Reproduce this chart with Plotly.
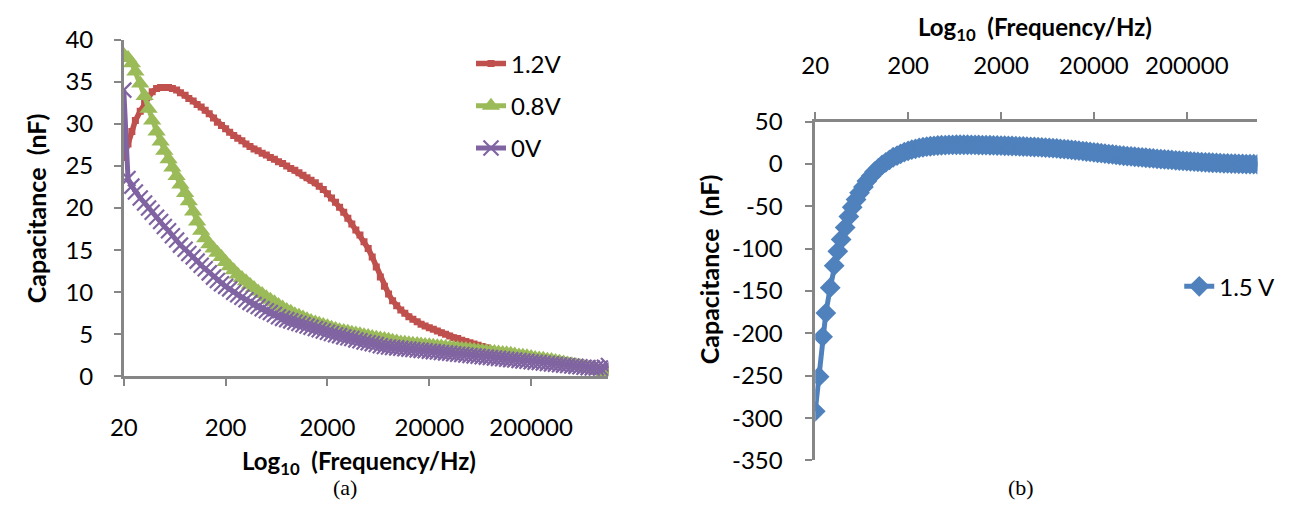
import math
import plotly.graph_objects as go

freq_hz = [
    20, 22, 24, 26, 29, 32, 35, 38, 42, 46, 50, 55, 60, 66, 72, 80, 87, 96, 105, 115, 126, 138, 152, 166, 182,
    200, 219, 240, 263, 289, 317, 347, 380, 417, 457, 502, 550, 603, 661, 725, 796, 872, 957, 1050, 1150, 1260, 1380, 1520, 1660, 1820,
    2000, 2190, 2400, 2630, 2890, 3170, 3470, 3800, 4170, 4570, 5020, 5500, 6030, 6610, 7250, 7960, 8720, 9570, 10500, 11500, 12600, 13800, 15200, 16600, 18200,
    20000, 21900, 24000, 26300, 28900, 31700, 34700, 38000, 41700, 45700, 50200, 55000, 60300, 66100, 72500, 79600, 87200, 95700, 105000, 115000, 126000, 138000, 152000, 166000, 182000,
    200000, 219000, 240000, 263000, 289000, 317000, 347000, 380000, 417000, 457000, 502000, 550000, 603000, 661000, 725000, 796000, 872000, 957000, 1050000, 1150000,
]

cap_1v2 = [
    26.0, 27.6, 29.1, 30.4, 31.5, 32.4, 33.2, 33.8, 34.2, 34.3, 34.3, 34.3, 34.2, 34.0, 33.7, 33.4, 33.0, 32.7, 32.3, 32.0,
    31.6, 31.2, 30.7, 30.2, 29.8, 29.4, 29.0, 28.6, 28.3, 28.0, 27.6, 27.3, 27.0, 26.8, 26.5, 26.3, 26.0, 25.8, 25.5, 25.3,
    25.0, 24.7, 24.5, 24.2, 23.9, 23.6, 23.3, 23.0, 22.6, 22.2, 21.7, 21.2, 20.7, 20.1, 19.5, 18.8, 18.1, 17.4, 16.8, 16.0,
    15.2, 14.2, 13.0, 11.8, 10.7, 9.8, 9.0, 8.4, 7.9, 7.5, 7.1, 6.8, 6.5, 6.2, 6.0, 5.8, 5.6, 5.4, 5.2, 5.0,
    4.8, 4.6, 4.5, 4.3, 4.15, 4.0, 3.85, 3.7, 3.55, 3.4, 3.2, 3.1, 3.0, 2.95, 2.9, 2.8, 2.7, 2.6, 2.5, 2.4,
    2.3, 2.2, 2.15, 2.1, 2.0, 1.9, 1.85, 1.8, 1.7, 1.65, 1.6, 1.5, 1.45, 1.4, 1.3, 1.2, 1.1, 1.0, 0.9, 0.8,
]

cap_0v8 = [
    38.2, 37.8, 37.2, 36.2, 34.8, 33.3, 31.8, 30.4, 29.1, 27.9, 26.8, 25.8, 24.8, 23.8, 22.8, 21.8, 20.8, 19.6, 18.4, 17.3,
    16.4, 15.7, 15.2, 14.7, 14.2, 13.6, 13.1, 12.6, 12.1, 11.7, 11.3, 10.9, 10.5, 10.1, 9.8, 9.4, 9.1, 8.8, 8.5, 8.2,
    7.9, 7.7, 7.4, 7.2, 7.0, 6.8, 6.6, 6.4, 6.25, 6.1, 5.95, 5.8, 5.65, 5.5, 5.4, 5.3, 5.2, 5.1, 5.0, 4.9,
    4.8, 4.7, 4.6, 4.5, 4.45, 4.35, 4.25, 4.15, 4.05, 4.0, 3.95, 3.9, 3.85, 3.8, 3.75, 3.7, 3.65, 3.6, 3.55, 3.5,
    3.45, 3.4, 3.35, 3.3, 3.25, 3.2, 3.15, 3.1, 3.05, 3.0, 2.95, 2.9, 2.85, 2.8, 2.75, 2.7, 2.6, 2.5, 2.45, 2.4,
    2.3, 2.2, 2.15, 2.1, 2.0, 1.95, 1.85, 1.75, 1.65, 1.55, 1.45, 1.35, 1.25, 1.15, 1.05, 0.95, 0.8, 0.65, 0.5, 0.35,
]

cap_0v = [
    34.0, 23.5, 22.6, 21.9, 21.2, 20.6, 20.0, 19.5, 18.9, 18.4, 17.8, 17.3, 16.7, 16.2, 15.6, 15.1, 14.6, 14.2, 13.7, 13.2,
    12.8, 12.3, 11.8, 11.4, 11.0, 10.7, 10.4, 10.0, 9.7, 9.4, 9.1, 8.8, 8.55, 8.3, 8.05, 7.8, 7.6, 7.35, 7.1, 6.9,
    6.75, 6.6, 6.45, 6.3, 6.15, 6.0, 5.85, 5.7, 5.55, 5.4, 5.25, 5.1, 4.95, 4.85, 4.7, 4.6, 4.5, 4.35, 4.25, 4.1,
    4.0, 3.9, 3.8, 3.65, 3.55, 3.5, 3.45, 3.4, 3.35, 3.3, 3.25, 3.2, 3.15, 3.1, 3.05, 3.0, 2.95, 2.9, 2.85, 2.8,
    2.75, 2.7, 2.65, 2.6, 2.55, 2.5, 2.45, 2.4, 2.35, 2.3, 2.25, 2.2, 2.15, 2.1, 2.05, 2.0, 1.95, 1.9, 1.85, 1.8,
    1.75, 1.7, 1.65, 1.6, 1.55, 1.5, 1.45, 1.4, 1.35, 1.3, 1.25, 1.2, 1.15, 1.1, 1.05, 1.0, 1.0, 1.0, 1.1, 1.3,
]

cap_1v5 = [
    -292, -251, -204, -176, -146, -120, -103, -89, -75, -62, -51, -42, -34, -27, -20, -14, -9, -5, -1, 2,
    5, 8, 10, 12, 14, 15.5, 17, 18, 19, 19.8, 20.5, 21, 21.5, 21.9, 22.2, 22.4, 22.6, 22.7, 22.8, 22.8,
    22.8, 22.8, 22.7, 22.6, 22.5, 22.4, 22.3, 22.2, 22.0, 21.9, 21.8, 21.6, 21.5, 21.3, 21.1, 20.9, 20.7, 20.5, 20.3, 20.1,
    19.9, 19.6, 19.3, 19.0, 18.7, 18.4, 18.0, 17.6, 17.2, 16.8, 16.3, 15.8, 15.3, 14.8, 14.3, 13.8, 13.3, 12.8, 12.3, 11.8,
    11.3, 10.8, 10.3, 9.8, 9.4, 9.0, 8.6, 8.2, 7.8, 7.4, 7.0, 6.6, 6.2, 5.8, 5.4, 5.1, 4.8, 4.4, 4.1, 3.8,
    3.5, 3.2, 2.9, 2.6, 2.3, 2.0, 1.8, 1.5, 1.3, 1.1, 0.9, 0.7, 0.5, 0.4, 0.2, 0.1, 0.0, -0.1, -0.2, -0.3,
]

x_tick_vals = [20, 200, 2000, 20000, 200000]
x_tick_text = ["20", "200", "2000", "20000", "200000"]
left_y_ticks = [0, 5, 10, 15, 20, 25, 30, 35, 40]
right_y_ticks = [50, 0, -50, -100, -150, -200, -250, -300, -350]
right_y_tick_text = ["50", "0", "-50", "-100", "-150", "-200", "-250", "-300", "-350"]

RED = "#C0504D"
GREEN = "#9BBB59"
PURPLE = "#8064A2"
BLUE = "#4F81BD"
AXIS = "#868686"
FONT = "Lato, Open Sans, sans-serif"
FS = 24

W, H = 1293, 515

fig = go.Figure()

fig.add_trace(go.Scatter(
    x=freq_hz, y=cap_1v2, name="1.2V", mode="lines+markers",
    line=dict(color=RED, width=5.5),
    marker=dict(symbol="square", size=7, color=RED),
    xaxis="x", yaxis="y", legend="legend", legendgroup="a",
))
fig.add_trace(go.Scatter(
    x=freq_hz, y=cap_0v8, name="0.8V", mode="lines+markers",
    line=dict(color=GREEN, width=5),
    marker=dict(symbol="triangle-up", size=16, color=GREEN),
    xaxis="x", yaxis="y", legend="legend", legendgroup="b",
))
fig.add_trace(go.Scatter(
    x=freq_hz, y=cap_0v, name="0V", mode="lines+markers",
    line=dict(color=PURPLE, width=5),
    marker=dict(symbol="x-thin", size=15, color=PURPLE, line=dict(color=PURPLE, width=2.2)),
    xaxis="x", yaxis="y", legend="legend", legendgroup="c",
))
fig.add_trace(go.Scatter(
    x=freq_hz, y=cap_1v5, name="1.5 V", mode="lines+markers",
    line=dict(color=BLUE, width=5),
    marker=dict(symbol="diamond", size=16, color=BLUE),
    xaxis="x2", yaxis="y2", legend="legend2",
))

xr = [math.log10(freq_hz[0]), math.log10(freq_hz[-1])]

axis_common = dict(
    showline=True, linecolor=AXIS, linewidth=2.5,
    ticks="outside", tickcolor=AXIS, tickwidth=2, ticklen=7,
    showgrid=False, zeroline=False,
    tickfont=dict(family=FONT, size=FS, color="#000000"),
)

fig.update_layout(
    width=W, height=H,
    margin=dict(l=0, r=0, t=0, b=0),
    paper_bgcolor="white", plot_bgcolor="white",
    showlegend=True,
    xaxis=dict(
        type="log", range=xr, domain=[111 / W, 601 / W], anchor="y",
        tickvals=x_tick_vals, ticktext=x_tick_text, ticklabelstandoff=21,
        **axis_common,
    ),
    yaxis=dict(
        range=[0, 40], domain=[(H - 382) / H, (H - 25) / H], anchor="x",
        tickvals=left_y_ticks, ticklabelstandoff=16,
        **axis_common,
    ),
    xaxis2=dict(
        type="log", range=xr, domain=[810 / W, 1257 / W], anchor="y2", side="top",
        tickvals=x_tick_vals, ticktext=x_tick_text, ticklabelstandoff=28,
        **axis_common,
    ),
    yaxis2=dict(
        range=[-350, 50], domain=[(H - 471) / H, (H - 112) / H], anchor="x2",
        tickvals=right_y_ticks, ticktext=right_y_tick_text, ticklabelstandoff=18,
        **axis_common,
    ),
    legend=dict(
        x=462 / W, y=1 - 27 / H, xanchor="left", yanchor="top",
        font=dict(family=FONT, size=FS, color="#000000"),
        bgcolor="rgba(0,0,0,0)", borderwidth=0, tracegroupgap=8,
        traceorder="grouped", itemsizing="trace",
    ),
    legend2=dict(
        x=1178 / W, y=1 - 263 / H, xanchor="left", yanchor="top",
        font=dict(family=FONT, size=FS, color="#000000"),
        bgcolor="rgba(0,0,0,0)", borderwidth=0, itemsizing="trace",
    ),
)

annots = [
    dict(text="Capacitance  (nF)", x=22 / W, y=1 - 204 / H, textangle=-90,
         font=dict(family=FONT, size=25, color="#000000", weight="bold")),
    dict(text="Capacitance  (nF)", x=703 / W, y=1 - 268 / H, textangle=-90,
         font=dict(family=FONT, size=25, color="#000000", weight="bold")),
    dict(text="Log<sub>10</sub>  (Frequency/Hz)", x=349 / W, y=1 - 473 / H,
         font=dict(family=FONT, size=FS, color="#000000", weight="bold")),
    dict(text="Log<sub>10</sub>  (Frequency/Hz)", x=1032 / W, y=1 - 13 / H,
         font=dict(family=FONT, size=FS, color="#000000", weight="bold")),
    dict(text="(a)", x=335 / W, y=1 - 500 / H,
         font=dict(family="Liberation Serif, Times New Roman, serif", size=22, color="#000000")),
    dict(text="(b)", x=1018 / W, y=1 - 500 / H,
         font=dict(family="Liberation Serif, Times New Roman, serif", size=22, color="#000000")),
]
for a in annots:
    fig.add_annotation(xref="paper", yref="paper", showarrow=False,
                       xanchor="center", yanchor="middle", **a)

fig.write_html("out.html")
